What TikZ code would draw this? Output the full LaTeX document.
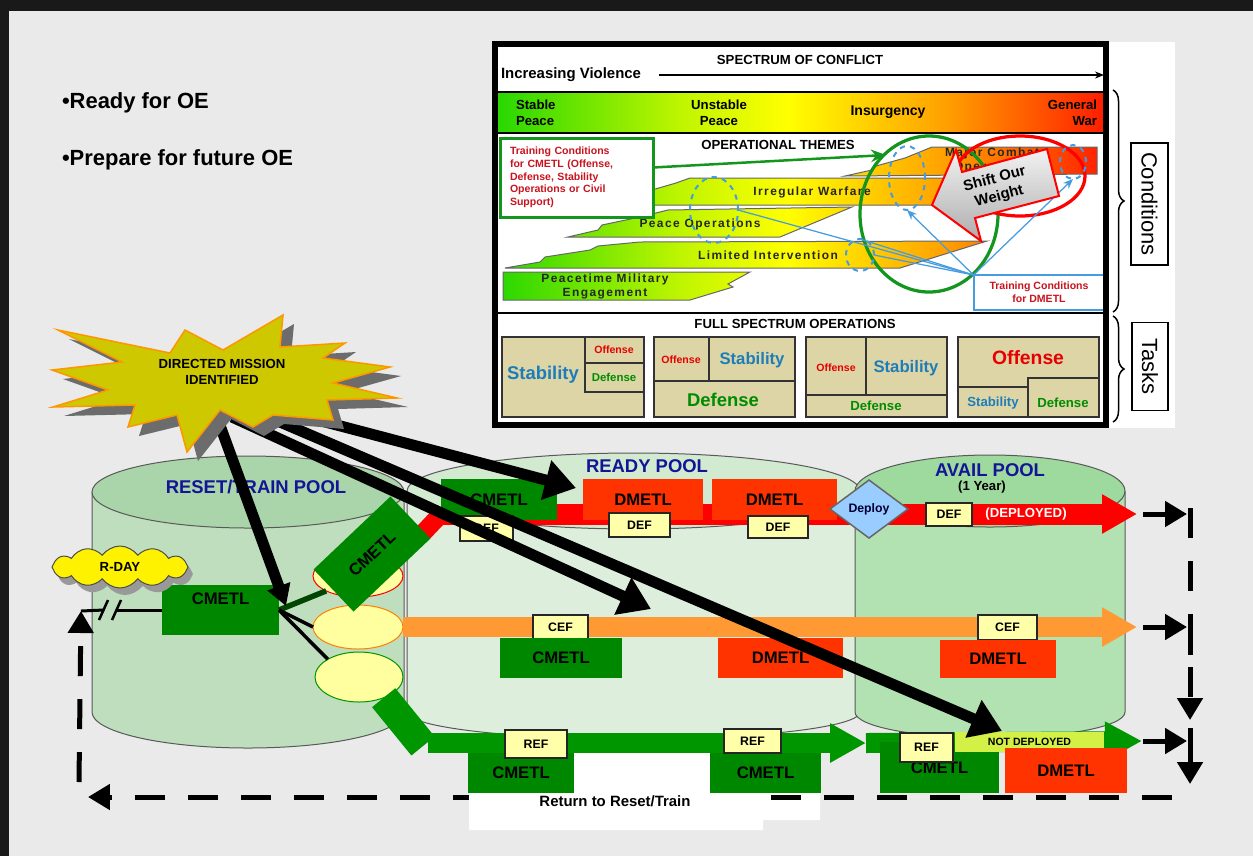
\documentclass[tikz,border=0pt]{standalone}
\usepackage{fontspec}
\setmainfont{Liberation Sans}
\usetikzlibrary{arrows.meta, positioning, shapes.geometric, shapes.symbols, shadows, decorations.pathreplacing}

\definecolor{bggray}{RGB}{234,234,234}
\definecolor{specgreen}{RGB}{40,215,0}
\definecolor{speclime}{RGB}{190,245,0}
\definecolor{specyellow}{RGB}{255,255,0}
\definecolor{specorange}{RGB}{255,160,0}
\definecolor{specred}{RGB}{255,30,0}
\definecolor{thmgreen}{RGB}{20,150,30}
\definecolor{lineblue}{RGB}{70,155,225}
\definecolor{trainred}{RGB}{200,20,30}
\definecolor{tanfill}{RGB}{221,213,165}
\definecolor{stabblue}{RGB}{30,125,185}
\definecolor{offred}{RGB}{230,0,0}
\definecolor{defgreen}{RGB}{0,140,0}
\definecolor{resetbody}{RGB}{190,222,190}
\definecolor{resettop}{RGB}{170,212,170}
\definecolor{readybody}{RGB}{221,239,220}
\definecolor{readytop}{RGB}{210,234,208}
\definecolor{availbody}{RGB}{178,226,178}
\definecolor{availtop}{RGB}{158,217,158}
\definecolor{poolblue}{RGB}{20,20,150}
\definecolor{cmgreen}{RGB}{0,135,0}
\definecolor{dmred}{RGB}{255,51,0}
\definecolor{tagyellow}{RGB}{255,255,170}
\definecolor{ovalyellow}{RGB}{255,255,160}
\definecolor{flowred}{RGB}{255,0,0}
\definecolor{floworange}{RGB}{255,153,51}
\definecolor{flowgreen}{RGB}{0,150,0}
\definecolor{limeband}{RGB}{210,240,70}
\definecolor{deployblue}{RGB}{153,204,255}
\definecolor{burstyellow}{RGB}{205,200,0}
\definecolor{burstorange}{RGB}{255,150,0}
\definecolor{cmdark}{RGB}{0,70,0}

\pgfdeclarehorizontalshading{spectrum}{100bp}{color(0bp)=(specgreen); color(25bp)=(specgreen); color(40bp)=(speclime); color(49bp)=(specyellow); color(62bp)=(specorange); color(75bp)=(specred); color(100bp)=(specred)}

% one operational theme, shaded along the spectrum
\newcommand{\themeband}[1]{%
  \begin{scope}
    \clip #1 -- cycle;
    \shade[shading=spectrum] (497,100) rectangle (1103,320);
  \end{scope}
  \draw[black!60, line width=0.02cm] #1 -- cycle;}

\begin{document}
\begin{tikzpicture}[x=0.02cm, y=-0.02cm,
    every node/.style={inner sep=0pt, outer sep=0pt},
    bf/.style={font=\bfseries\fontsize{#1}{\fpeval{#1*1.2}}\selectfont},
    themefont/.style={font=\bfseries\fontsize{6.8}{8}\selectfont\addfontfeatures{LetterSpace=12}, text=black!85},
    wh/.style 2 args={minimum width=#1*0.02cm, minimum height=#2*0.02cm},
    poolline/.style={draw=black!65, line width=0.02cm},
    pooltitle/.style={bf=10.5, text=poolblue},
    cmbox/.style={fill=cmgreen, bf=9.5},
    dmbox/.style={fill=dmred, bf=9.5},
    tagbox/.style={fill=tagyellow, draw=black!85, line width=0.04cm, bf=7},
    oval/.style={ellipse, fill=ovalyellow, line width=0.02cm},
    focus/.style={ellipse, draw=lineblue, dashed, line width=0.04cm},
    tanbox/.style={fill=tanfill, draw=black!80, line width=0.03cm},
    bluelink/.style={draw=lineblue, line width=0.025cm},
    blkarrow/.style={line width=0.22cm, -{Triangle[length=0.62cm, width=0.78cm]}},
    loopline/.style={line width=0.1cm},
    loopdash/.style={line width=0.1cm, dash pattern=on 0.6cm off 0.46cm},
    looptip/.style={-{Triangle[length=0.44cm, width=0.5cm]}}
  ]
  % background
  \fill[bggray] (0,0) rectangle (1253,856);
  \fill[black!90] (0,0) rectangle (1253,11);
  \fill[black!90] (0,0) rectangle (9,856);
  \useasboundingbox (0,0) rectangle (1253,856);

  \node[bf=12.5, anchor=west] (readyoe) at (62,103) {•Ready for OE};
  \node[bf=12.5, anchor=west] (futureoe) at (62,160) {•Prepare for future OE};

  % spectrum of conflict panel
  \fill[white] (495,42) rectangle (1175,428);
  \shade[shading=spectrum] (497,92) rectangle (1103,133);
  \draw[line width=0.025cm] (497,92) -- (1103,92) (497,133) -- (1103,133) (497,313) -- (1103,313);
  \node[bf=7.5] (spectrum) at (800,60) {SPECTRUM OF CONFLICT};
  \node[bf=8.5, anchor=west] (violence) at (501,75) {Increasing Violence};
  \coordinate (violend) at (1104,75);
  \draw[line width=0.025cm, -{Stealth[length=0.18cm, width=0.14cm]}] ([xshift=0.36cm]violence.east) -- (violend);
  \node[bf=7.5, align=left, anchor=west] (stable) at (516,113) {Stable\\Peace};
  \node[bf=7.5, align=center] (unstable) at (719,113) {Unstable\\Peace};
  \node[bf=8] (insurgency) at (888,112) {Insurgency};
  \node[bf=7.5, align=right, anchor=east] (genwar) at (1097,113) {General\\War};
  \node[bf=7.5] (themes) at (778,145) {OPERATIONAL THEMES};

  \themeband{(845,176) -- (872,170) -- (876,166) -- (905,158) -- (932,147) -- (1097,147) -- (1097,174)}
  \themeband{(600,205) -- (640,197) -- (645,192) -- (676,183) -- (690,178) -- (962,178) -- (950,205)}
  \themeband{(568,237) -- (598,230) -- (602,225) -- (640,217) -- (668,210) -- (852,207) -- (780,237)}
  \themeband{(505,268) -- (540,262) -- (545,257) -- (590,250) -- (598,246) -- (640,242) -- (987,241) -- (900,268)}
  \themeband{(503,272) -- (750,272) -- (728,284) -- (733,287) -- (690,300) -- (503,300)}
  \node[themefont, align=center] (combat) at (992,160) {Major Combat\\Operations};
  \node[themefont] (irregular) at (812,192) {Irregular Warfare};
  \node[themefont] (peaceops) at (700,224) {Peace Operations};
  \node[themefont] (limited) at (768,255) {Limited Intervention};
  \node[themefont, align=center] (peacetime) at (605,286) {Peacetime Military\\Engagement};

  \node[draw=thmgreen, line width=0.06cm, fill=white, wh={153}{79}, anchor=north west,
        text width=2.66cm, align=left, inner xsep=0.2cm, bf=6, text=trainred] (traincm) at (500,138)
        {Training Conditions\\for CMETL (Offense,\\Defense, Stability\\Operations or Civil\\Support)};
  \node[ellipse, draw=thmgreen, line width=0.065cm, wh={138}{156}] (greenring) at (929,214) {};
  \node[ellipse, draw=red, line width=0.065cm, wh={130}{80}] (redring) at (1020,176) {};
  \coordinate (greentip) at (886,155);
  \draw[thmgreen, line width=0.05cm, -{Stealth[length=0.3cm, width=0.25cm]}] ([yshift=0.2cm]traincm.east) -- (greentip);
  \node[focus, wh={48}{66}] (focusA) at (714,210) {};
  \node[focus, wh={36}{64}] (focusB) at (907,178) {};
  \node[focus, wh={26}{34}] (focusC) at (1073,162) {};
  \node[focus, wh={28}{32}] (focusD) at (860,255) {};
  \node[draw=lineblue, line width=0.04cm, fill=white, wh={131}{35}, align=center, bf=6, text=trainred] (traindm) at (1039,292.5) {Training Conditions\\for DMETL};
  \draw[bluelink, -{Stealth[length=0.2cm, width=0.16cm]}] (traindm.north west) -- (focusB.south);
  \draw[bluelink, -{Stealth[length=0.2cm, width=0.16cm]}] (traindm.north west) -- (focusC.south);
  \draw[bluelink] (traindm.north west) -- (focusA.east);
  \draw[bluelink] (traindm.north west) -- (focusD.north);
  \draw[bluelink] (traindm.north west) -- (focusD.east);
  \shade[top color=gray!10, bottom color=gray!65, draw=red, line width=0.04cm]
    (932,205) -- (956,150) -- (962,172) -- (1047,149) -- (1059,196) -- (975,218) -- (981,241) -- cycle;
  \node[bf=8.5, rotate=15, align=center] (shiftweight) at (997,188) {Shift Our\\Weight};

  % full spectrum operations
  \node[bf=7.5] (fullspec) at (795,324) {FULL SPECTRUM OPERATIONS};
  \draw[tanbox] (502,337) rectangle (644,417);
  \draw[tanbox] (585,337) -- (585,392) -- (644,392) (585,363) -- (644,363);
  \node[bf=10.5, text=stabblue] (stabA) at (543,375) {Stability};
  \node[bf=6, text=offred] (offA) at (614,350) {Offense};
  \node[bf=6.5, text=defgreen] (defA) at (614,377) {Defense};
  \draw[tanbox] (654,337) rectangle (795,417);
  \draw[tanbox] (709,337) -- (709,381) (654,381) -- (795,381);
  \node[bf=6, text=offred] (offB) at (681,360) {Offense};
  \node[bf=9.5, text=stabblue] (stabB) at (752,360) {Stability};
  \node[bf=10.5, text=defgreen] (defB) at (723,400) {Defense};
  \draw[tanbox] (806,337) rectangle (947,417);
  \draw[tanbox] (866,337) -- (866,395) (806,395) -- (947,395);
  \node[bf=6, text=offred] (offC) at (836,368) {Offense};
  \node[bf=9.5, text=stabblue] (stabC) at (906,368) {Stability};
  \node[bf=7.5, text=defgreen] (defC) at (876,406) {Defense};
  \draw[tanbox] (958,337) rectangle (1099,417);
  \draw[tanbox] (958,387) -- (1028,387) -- (1028,378) -- (1099,378) (1028,387) -- (1028,417);
  \node[bf=11, text=offred] (offD) at (1028,358) {Offense};
  \node[bf=7.5, text=stabblue] (stabD) at (993,403) {Stability};
  \node[bf=7.5, text=defgreen] (defD) at (1063,403) {Defense};
  \draw[line width=0.11cm] (495,44) rectangle (1106,425);

  % conditions / tasks
  \draw[decorate, decoration={brace, amplitude=0.22cm}, line width=0.03cm] (1113,90) -- (1113,312);
  \draw[decorate, decoration={brace, amplitude=0.22cm}, line width=0.03cm] (1113,316) -- (1113,422);
  \node[draw, line width=0.03cm, fill=white, wh={122}{37}, rotate=-90, font=\fontsize{12.5}{14}\selectfont] (condbox) at (1149.5,204) {Conditions};
  \node[draw, line width=0.03cm, fill=white, wh={88}{36}, rotate=-90, font=\fontsize{12.5}{14}\selectfont] (taskbox) at (1150,366.5) {Tasks};

  % pools
  \fill[readybody] (407,491) rectangle (860,712);
  \fill[readybody] (633.5,712) ellipse [x radius=226.5, y radius=27];
  \draw[poolline] (407,491) -- (407,712) arc[start angle=180, end angle=0, x radius=226.5, y radius=27] -- (860,491);
  \filldraw[fill=readytop, poolline] (633.5,491) ellipse [x radius=226.5, y radius=38];
  \fill[availbody] (855,491) rectangle (1125,712);
  \fill[availbody] (990,712) ellipse [x radius=135, y radius=26];
  \draw[poolline] (855,491) -- (855,712) arc[start angle=180, end angle=0, x radius=135, y radius=26] -- (1125,491);
  \filldraw[fill=availtop, poolline] (990,491) ellipse [x radius=135, y radius=36];
  \fill[resetbody] (92,492) rectangle (404,712);
  \fill[resetbody] (248,712) ellipse [x radius=156, y radius=36];
  \draw[poolline] (92,492) -- (92,712) arc[start angle=180, end angle=0, x radius=156, y radius=36] -- (404,492);
  \filldraw[fill=resettop, poolline] (248,492) ellipse [x radius=156, y radius=36];
  \node[pooltitle] (resettitle) at (256,487) {RESET/TRAIN POOL};
  \node[pooltitle] (readytitle) at (647,466) {READY POOL};
  \node[pooltitle] (availtitle) at (990,470) {AVAIL POOL};
  \node[bf=7.5] (availyear) at (982,487) {(1 Year)};

  % flows
  \node[oval, draw=red, wh={90}{42}] (ovalA) at (358,576) {};
  \node[oval, draw=orange, wh={90}{44}] (ovalB) at (358,627) {};
  \node[oval, draw=flowgreen, wh={88}{50}] (ovalC) at (359,677) {};
  \coordinate (redknee) at (423,533);
  \coordinate (redstart) at (441,514);
  \coordinate (redtip) at (1137,514);
  \draw[flowred, line width=0.36cm] (redknee) -- (redstart);
  \draw[flowred, line width=0.42cm, -{Triangle[length=0.7cm, width=0.74cm]}] (redstart) -- (redtip);
  \coordinate (orangetip) at (1137,627);
  \draw[floworange, line width=0.4cm, -{Triangle[length=0.7cm, width=0.74cm]}] (ovalB.east) -- (orangetip);
  \coordinate (gknee) at (423,746);
  \coordinate (gbar) at (428,743);
  \coordinate (gmid) at (866,743);
  \coordinate (gtip) at (1142,741);
  \draw[flowgreen, line width=0.6cm] (ovalC.-40) -- (gknee);
  \draw[flowgreen, line width=0.4cm, -{Triangle[length=0.74cm, width=0.74cm]}] (gmid) -- (gtip);
  \draw[flowgreen, line width=0.4cm, -{Triangle[length=0.72cm, width=0.74cm]}] (gbar) -- (gmid);
  \node[cmbox, wh={106}{58}, rotate=43.5] (cmR) at (372,554) {CMETL};

  % deployed row
  \node[cmbox, wh={116}{41}] (cmA) at (499,499.5) {CMETL};
  \node[tagbox, wh={53}{25}] (defTa) at (486.5,528.5) {DEF};
  \node[dmbox, wh={120}{41}] (dmA) at (643,499.5) {DMETL};
  \node[tagbox, wh={61}{24}] (defTb) at (639.5,525) {DEF};
  \node[dmbox, wh={125}{41}] (dmB) at (774.5,499.5) {DMETL};
  \node[tagbox, wh={60}{22}] (defTc) at (778,527) {DEF};
  \node[diamond, fill=deployblue, draw=black!60, line width=0.03cm, wh={78}{58}, bf=7, text=black!80!blue] (deploy) at (869,509) {Deploy};
  \node[tagbox, wh={46}{23}] (defTd) at (949,514.5) {DEF};
  \node[bf=7.5, text=white] (deployed) at (1026,514) {(DEPLOYED)};

  % contingency row
  \node[tagbox, wh={55}{24}] (cefA) at (560.5,627) {CEF};
  \node[cmbox, wh={122}{40}] (cmB) at (561,658) {CMETL};
  \node[dmbox, wh={125}{40}] (dmC) at (780.5,658) {DMETL};
  \node[tagbox, wh={59}{25}] (cefB) at (1007.5,627.5) {CEF};
  \node[dmbox, wh={116}{38}] (dmD) at (998,659) {DMETL};

  % return loop
  \fill[white] (469,753) -- (820,753) -- (820,820) -- (763,820) -- (763,830) -- (469,830) -- cycle;
  \coordinate (loopR) at (1172,797);
  \coordinate (loopL) at (88,797);
  \draw[loopdash, looptip] (loopR) -- (loopL);
  \fill[white] (469,785) rectangle (763,830);
  \node[bf=8.5] (returnlbl) at (615,801) {Return to Reset/Train};

  % not deployed row
  \node[cmbox, wh={106}{40}] (cmC) at (521,773) {CMETL};
  \node[tagbox, wh={62}{28}] (refA) at (536,744) {REF};
  \node[cmbox, wh={111}{40}] (cmD) at (765.5,773) {CMETL};
  \node[tagbox, wh={57}{24}] (refB) at (752.5,741) {REF};
  \node[cmbox, wh={119}{51}] (cmE) at (939.5,767.5) {CMETL};
  \node[fill=limeband, wh={149}{20}, bf=6] (notdep) at (1029.5,742) {NOT DEPLOYED};
  \node[tagbox, wh={53}{29}] (refC) at (926.5,747.5) {REF};
  \node[dmbox, wh={122}{45}] (dmE) at (1066,770.5) {DMETL};

  \coordinate (rowAout) at (1143,514);
  \coordinate (rowAbar) at (1187,514);
  \coordinate (rowBout) at (1143,627);
  \coordinate (rowBbar) at (1187,627);
  \coordinate (rowCout) at (1143,741);
  \coordinate (rowCbar) at (1187,741);
  \coordinate (dropTop) at (1190,508);
  \coordinate (dropMid) at (1190,720);
  \coordinate (dropLow) at (1190,728);
  \coordinate (dropEnd) at (1190,784);
  \draw[loopline, looptip] (rowAout) -- (rowAbar);
  \draw[loopline, looptip] (rowBout) -- (rowBbar);
  \draw[loopline, looptip] (rowCout) -- (rowCbar);
  \draw[loopdash, looptip] (dropTop) -- (dropMid);
  \draw[loopline] (1190,620) -- (1190,655);
  \draw[loopline, looptip] (dropLow) -- (dropEnd);

  % reset side
  \node[cmbox, wh={117}{50}, text height=0.25cm, text depth=0.49cm] (cmL) at (220.5,610) {CMETL};
  \coordinate (leftLow) at (79,782);
  \coordinate (leftTop) at (81,611);
  \coordinate (brkA) at (104,610);
  \coordinate (brkB) at (117,610);
  \draw[loopdash, looptip] (leftLow) -- (leftTop);
  \draw[line width=0.06cm] (leftTop) -- (brkA);
  \draw[line width=0.06cm] (brkB) -- (cmL.west);
  \draw[line width=0.05cm] (99,620) -- (108,600) (112,620) -- (121,600);
  \draw[cmdark, line width=0.11cm] (cmL.east) -- (ovalA.south west);
  \draw[line width=0.07cm] (cmL.east) -- (ovalB.west);
  \draw[line width=0.07cm] (cmL.east) -- (ovalC.north west);
  \node[cloud, cloud puffs=12, cloud puff arc=110, aspect=3.3, fill=yellow, draw=black!70, line width=0.02cm,
        wh={136}{42}, bf=7.5, drop shadow={shadow xshift=0.1cm, shadow yshift=-0.14cm, fill=gray!80, opacity=1}] (rday) at (120,567) {R-DAY};

  % directed mission
  \coordinate (sA) at (218,420);
  \coordinate (eA) at (286,606);
  \coordinate (sB) at (295,414);
  \coordinate (eB) at (576,488);
  \coordinate (sC) at (232,417);
  \coordinate (eC) at (651,609);
  \coordinate (sD) at (280,422);
  \coordinate (eD) at (1002,731);
  \draw[line width=0.22cm, -{Triangle[length=0.42cm, width=0.46cm]}] (sA) -- (eA);
  \draw[blkarrow] (sB) -- (eB);
  \draw[blkarrow] (sC) -- (eC);
  \draw[blkarrow] (sD) -- (eD);
  \filldraw[fill=burstyellow, draw=burstorange, line width=0.03cm,
    drop shadow={shadow xshift=0.22cm, shadow yshift=-0.18cm, fill=gray!85!black, opacity=1}]
    (58,330) -- (122,362) -- (52,370) -- (108,390) -- (53,407) -- (135,405) -- (128,427) -- (177,415)
    -- (187,452) -- (220,410) -- (253,427) -- (273,415) -- (333,420) -- (327,400) -- (397,398)
    -- (333,383) -- (390,367) -- (323,358) -- (345,343) -- (280,347) -- (283,315) -- (223,350)
    -- (185,330) -- (170,353) -- cycle;
  \node[bf=7.5, align=center] (mission) at (222,372) {DIRECTED MISSION\\IDENTIFIED};
\end{tikzpicture}
\end{document}
